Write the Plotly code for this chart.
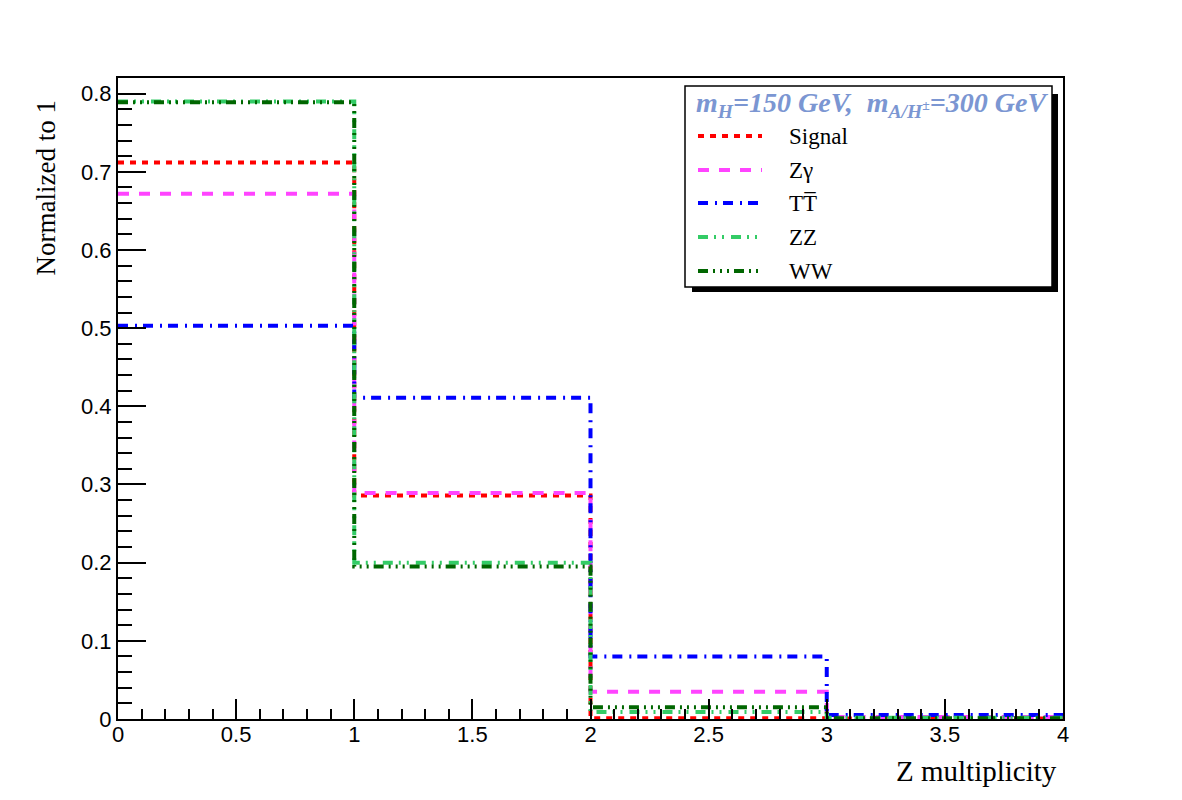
import plotly.graph_objects as go

# ---- data ----
bin_edges = [0, 1, 2, 3, 4]
series_names = ["Signal", "Z\u03b3", "TT\u0305", "ZZ", "WW"]
signal = [0.712, 0.286, 0.001, 0.0005]
zgamma = [0.672, 0.289, 0.035, 0.0025]
tt = [0.503, 0.411, 0.080, 0.005]
zz = [0.790, 0.200, 0.009, 0.0015]
ww = [0.789, 0.195, 0.015, 0.001]
series_values = [signal, zgamma, tt, zz, ww]

colors = ["#ff0000", "#ff44ff", "#0000ff", "#33cc66", "#006600"]
dashes = [
    "6px,6px",
    "11px,10px",
    "10px,7px,2px,6px",
    "10px,6px,2px,6px,2px,7px",
    "10px,5px,2px,5px,2px,5px,2px,5px",
]

fig = go.Figure()
for name, vals, col, dsh in zip(series_names, series_values, colors, dashes):
    fig.add_trace(go.Scatter(
        x=bin_edges, y=vals + [vals[-1]],
        mode="lines", line=dict(shape="hv", color=col, width=4, dash=dsh),
        name=name, showlegend=False, hoverinfo="skip"))

W, H = 1182, 800
L, R, T, B = 118, 119, 78, 81
pw, ph = W - L - R, H - T - B

def px(xp):
    return (xp - L) / pw

def py(yp):
    return (H - B - yp) / ph

shapes = [
    dict(type="rect", xref="paper", yref="paper", x0=px(692), x1=px(1058), y0=py(292), y1=py(94),
         fillcolor="black", line=dict(width=0), layer="above"),
    dict(type="rect", xref="paper", yref="paper", x0=px(685), x1=px(1052), y0=py(287), y1=py(86),
         fillcolor="white", line=dict(color="black", width=1.5), layer="above"),
]
annotations = [
    dict(text="<b><i>m<sub>H</sub>=150 GeV,\u00a0\u00a0m<sub>A/H<sup>\u00b1</sup></sub>=300 GeV</i></b>",
         xref="paper", yref="paper", x=px(694), y=py(104), xanchor="left", yanchor="middle",
         showarrow=False, font=dict(family="Liberation Serif", size=28, color="#7b96d2")),
    dict(text="Normalized to 1", xref="paper", yref="paper", x=px(45), y=py(99),
         xanchor="center", yanchor="top", textangle=-90, showarrow=False,
         font=dict(family="Liberation Serif", size=27, color="black")),
    dict(text="Z multiplicity", xref="paper", yref="paper", x=px(1059), y=py(771),
         xanchor="right", yanchor="middle", showarrow=False,
         font=dict(family="Liberation Serif", size=29, color="black")),
]
entry_y = [136, 170, 203, 237, 271]
for name, col, dsh, ey in zip(series_names, colors, dashes, entry_y):
    shapes.append(dict(type="line", xref="paper", yref="paper", x0=px(698), x1=px(762),
                       y0=py(ey), y1=py(ey), line=dict(color=col, width=4, dash=dsh), layer="above"))
    annotations.append(dict(text=name, xref="paper", yref="paper", x=px(787), y=py(ey),
                            xanchor="left", yanchor="middle", showarrow=False,
                            font=dict(family="Liberation Serif", size=23, color="black")))

fig.update_layout(
    width=W, height=H,
    margin=dict(l=L, r=R, t=T, b=B),
    paper_bgcolor="white", plot_bgcolor="white",
    shapes=shapes, annotations=annotations,
    showlegend=False,
)
fig.update_xaxes(range=[0, 4], tickmode="array", tickvals=[0, 0.5, 1, 1.5, 2, 2.5, 3, 3.5, 4],
                 ticktext=["0", "0.5", "1", "1.5", "2", "2.5", "3", "3.5", "4"],
                 ticks="inside", ticklen=20, tickwidth=1.5, tickcolor="black",
                 ticklabelstandoff=-5,
                 minor=dict(dtick=0.1, ticks="inside", ticklen=10, tickwidth=1.5, tickcolor="black"),
                 showline=True, mirror=True, linecolor="black", linewidth=2,
                 showgrid=False, zeroline=False,
                 tickfont=dict(family="Liberation Sans", size=22, color="black"))
fig.update_yaxes(range=[0, 0.82], tickmode="array",
                 tickvals=[0, 0.1, 0.2, 0.3, 0.4, 0.5, 0.6, 0.7, 0.8],
                 ticktext=["0", "0.1", "0.2", "0.3", "0.4", "0.5", "0.6", "0.7", "0.8"],
                 ticks="inside", ticklen=28, tickwidth=1.5, tickcolor="black",
                 minor=dict(dtick=0.02, ticks="inside", ticklen=14, tickwidth=1.5, tickcolor="black"),
                 showline=True, mirror=True, linecolor="black", linewidth=2,
                 showgrid=False, zeroline=False,
                 tickfont=dict(family="Liberation Sans", size=22, color="black"))

fig.write_html("out.html")
